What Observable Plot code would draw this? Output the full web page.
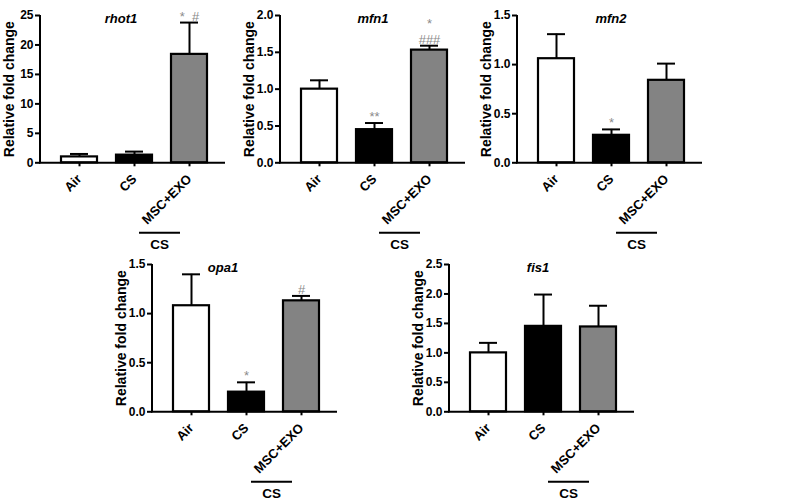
<!DOCTYPE html>
<html><head><meta charset="utf-8">
<script src="https://cdn.jsdelivr.net/npm/d3@7"></script>
<script src="https://cdn.jsdelivr.net/npm/@observablehq/plot@0.6"></script>
<style>
html,body{margin:0;padding:0;background:#fff;}
#root{position:relative;width:800px;height:504px;overflow:hidden;background:#fff;}
.panel{position:absolute;}
.panel svg{overflow:visible;}
</style></head><body><div id="root"></div>
<script>
// ---- data ----
const groups = ["Air", "CS", "MSC+EXO"];
const groupColors = ["#ffffff", "#000000", "#838383"];
const genes = ["rhot1", "mfn1", "mfn2", "opa1", "fis1"];
const yLabel = "Relative fold change";
const bracketLabel = "CS";
const bracketGroup = "MSC+EXO";

const rhot1Mean = [1.0, 1.3, 18.4];
const rhot1Sem  = [0.5, 0.6, 5.4];
const mfn1Mean  = [1.0, 0.45, 1.53];
const mfn1Sem   = [0.12, 0.09, 0.06];
const mfn2Mean  = [1.06, 0.28, 0.84];
const mfn2Sem   = [0.25, 0.06, 0.17];
const opa1Mean  = [1.08, 0.20, 1.13];
const opa1Sem   = [0.32, 0.10, 0.05];
const fis1Mean  = [1.0, 1.45, 1.44];
const fis1Sem   = [0.17, 0.54, 0.36];

const yMax  = [25, 2, 1.5, 1.5, 2.5];
const yStep = [5, 0.5, 0.5, 0.5, 0.5];
const yFormat = ["d", ".1f", ".1f", ".1f", ".1f"];

// significance marks: gene, group, label
const sigGene  = ["rhot1", "mfn1", "mfn1", "mfn2", "opa1", "opa1"];
const sigGroup = ["MSC+EXO", "CS", "MSC+EXO", "CS", "CS", "MSC+EXO"];
const sigText  = ["*\u00a0\u00a0#", "**", "*\n###", "*", "*", "#"];

// ---- layout ----
const panelLeft = [40, 280, 517, 152.4, 449.4];
const panelTop  = [14.5, 14.5, 14.5, 264.3, 264.3];
const titleShift = [-12, 0, 1, -22, -4];
const ML = 50, MT = 14, MR = 14, MB = 95, FW = 185, FH = 147.3;
const FONT = '"Liberation Sans", Arial, Helvetica, sans-serif';

const means = [rhot1Mean, mfn1Mean, mfn2Mean, opa1Mean, fis1Mean];
const sems  = [rhot1Sem, mfn1Sem, mfn2Sem, opa1Sem, fis1Sem];

const root = document.getElementById("root");

genes.forEach((gene, gi) => {
  const data = groups.map((g, i) => ({group: g, mean: means[gi][i], top: means[gi][i] + sems[gi][i]}));
  const sig = sigGene.map((g, i) => ({gene: g, group: sigGroup[i], label: sigText[i]}))
    .filter(d => d.gene === gene)
    .map(d => ({...d, top: data.find(r => r.group === d.group).top}));
  const ticks = d3.range(0, yMax[gi] + yStep[gi] / 2, yStep[gi]);

  // vertical axis line drawn through the y scale
  const yAxisLine = (index, scales, values, dimensions) => d3.create("svg:line")
    .attr("x1", dimensions.marginLeft).attr("x2", dimensions.marginLeft)
    .attr("y1", scales.y(0) + 1).attr("y2", scales.y(yMax[gi]))
    .attr("stroke", "black").attr("stroke-width", 2).node();

  const chart = Plot.plot({
    width: ML + FW + MR,
    height: MT + FH + MB,
    marginLeft: ML, marginRight: MR, marginTop: MT, marginBottom: MB,
    style: {fontFamily: FONT, fontWeight: "bold", color: "black", background: "transparent", overflow: "visible"},
    x: {domain: groups, paddingInner: 0.35, paddingOuter: 0.34, align: 0.53},
    y: {domain: [0, yMax[gi]]},
    color: {domain: groups, range: groupColors},
    marks: [
      Plot.ruleX(data, {x: "group", y1: "mean", y2: "top", stroke: "black", strokeWidth: 2}),
      Plot.tickY(data, {x: "group", y: "top", inset: 9, stroke: "black", strokeWidth: 2}),
      Plot.barY(data, {x: "group", y: "mean", fill: "group", stroke: "black", strokeWidth: 2.2}),
      Plot.ruleY([0], {stroke: "black", strokeWidth: 2, insetLeft: -1}),
      yAxisLine,
      Plot.axisY({ticks, tickFormat: yFormat[gi], tickSize: 5, tickPadding: 2,
        strokeWidth: 2, fontSize: 12, fontWeight: "bold", label: null}),
      Plot.axisY({ticks: [], label: yLabel, labelAnchor: "center", labelArrow: false, labelOffset: 36,
        fontSize: 14, fontWeight: "bold"}),
      Plot.axisX({tickRotate: -45, tickSize: 4, tickPadding: 10, strokeWidth: 2, fontSize: 13,
        fontWeight: "bold", label: null}),
      Plot.text([gene], {frameAnchor: "top", dx: titleShift[gi], dy: 3, lineAnchor: "middle",
        fontStyle: "italic", fontWeight: "bold", fontSize: 13, fill: "black"}),
      Plot.text(sig, {x: "group", y: "top", text: "label", lineAnchor: "bottom", dy: -2, lineHeight: 1.2,
        fill: "#8a8a8a", fontWeight: "normal", fontSize: 13}),
      Plot.tickY([0], {x: () => bracketGroup, dx: -29.5, dy: 70, insetLeft: -2.5, insetRight: -2.5,
        stroke: "black", strokeWidth: 2}),
      Plot.text([bracketLabel], {x: () => bracketGroup, y: () => 0, text: d => d, dx: -30, dy: 82,
        lineAnchor: "middle", fontSize: 13.5, fontWeight: "bold", fill: "black"})
    ]
  });
  const div = document.createElement("div");
  div.className = "panel";
  div.style.left = (panelLeft[gi] - ML) + "px";
  div.style.top = (panelTop[gi] - MT) + "px";
  div.appendChild(chart);
  root.appendChild(div);
});
</script>
</body></html>
